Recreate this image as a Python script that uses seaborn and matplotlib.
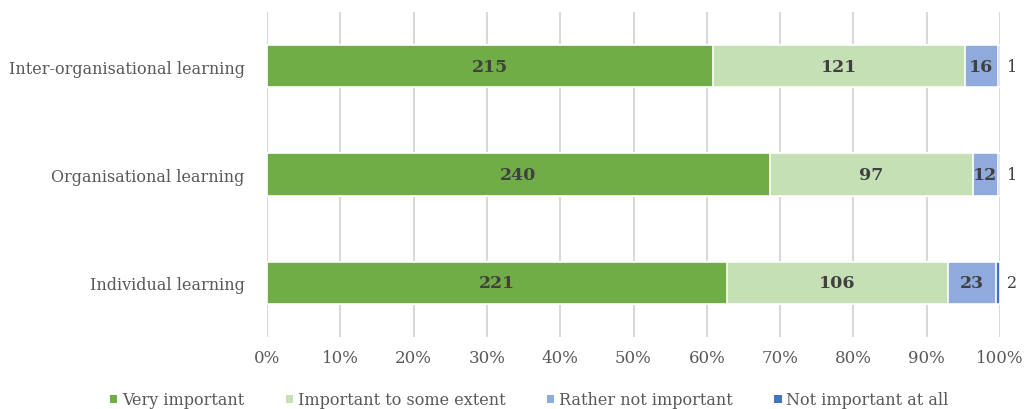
import matplotlib
matplotlib.use("Agg")
import matplotlib.pyplot as plt
import seaborn as sns
import pandas as pd
import numpy as np
from matplotlib.patches import Patch

categories = ["Inter-organisational learning", "Organisational learning", "Individual learning"]
series_names = ["Very important", "Important to some extent", "Rather not important", "Not important at all"]
very_important = [215, 240, 221]
some_extent = [121, 97, 106]
rather_not = [16, 12, 23]
not_at_all = [1, 1, 2]
colors = ["#70AD47", "#C5E0B4", "#8FAADC", "#4472C4"]
tick_labels = ["0%", "10%", "20%", "30%", "40%", "50%", "60%", "70%", "80%", "90%", "100%"]

sns.set_theme(style="white")
FAM = ["DejaVu Serif", "Liberation Serif"]
plt.rcParams["font.family"] = FAM

values = np.array([very_important, some_extent, rather_not, not_at_all], dtype=float)
totals = values.sum(axis=0)
shares = values / totals * 100
cum = np.cumsum(shares, axis=0)

fig = plt.figure(figsize=(10.28, 4.10), dpi=100)
ax = fig.add_axes([267 / 1028, 1 - 338 / 410, 733 / 1028, 325 / 410])

for i in range(len(series_names) - 1, -1, -1):
    df = pd.DataFrame({"cat": categories, "val": cum[i]})
    sns.barplot(data=df, x="val", y="cat", order=categories, orient="h",
                color=colors[i], saturation=1, width=0.39,
                edgecolor="white", linewidth=1.2, ax=ax, zorder=3)

# value labels
for j, cat in enumerate(categories):
    for i in range(3):
        start = cum[i][j] - shares[i][j]
        ax.text(start + shares[i][j] / 2, j, f"{int(values[i][j])}",
                ha="center", va="center", fontsize=12.5, fontweight="bold",
                color="#404040", zorder=5, family=FAM)
    ax.text(cum[3][j] + 1.0, j, f"{int(values[3][j])}", ha="left", va="center",
            fontsize=11.5, color="#404040", zorder=5, family=FAM)

ax.set_xlim(0, 100)
ax.set_ylim(2.5, -0.5)
ax.set_xticks(np.arange(0, 101, 10))
ax.set_xticklabels(tick_labels, family=FAM)
ax.set_yticks(range(len(categories)))
ax.set_yticklabels(categories, family=FAM)
ax.xaxis.grid(True, color="#D9D9D9", linewidth=1.5, zorder=0)
ax.yaxis.grid(False)
for s in ax.spines.values():
    s.set_visible(False)
ax.set_xlabel("")
ax.set_ylabel("")
ax.tick_params(axis="x", length=0, pad=9, labelsize=12, colors="#595959")
ax.tick_params(axis="y", length=0, pad=16, labelsize=11.5, colors="#595959")

handles = [Patch(facecolor=c, edgecolor="none") for c in colors]
leg = fig.legend(handles, series_names, loc="center", bbox_to_anchor=(0.515, 1 - 401 / 410),
                 ncol=4, frameon=False, prop={"family": FAM, "size": 11.5},
                 handlelength=0.45, handleheight=0.45,
                 handletextpad=0.3, columnspacing=2.6)
for t in leg.get_texts():
    t.set_color("#595959")

fig.savefig("out.png", dpi=100)
